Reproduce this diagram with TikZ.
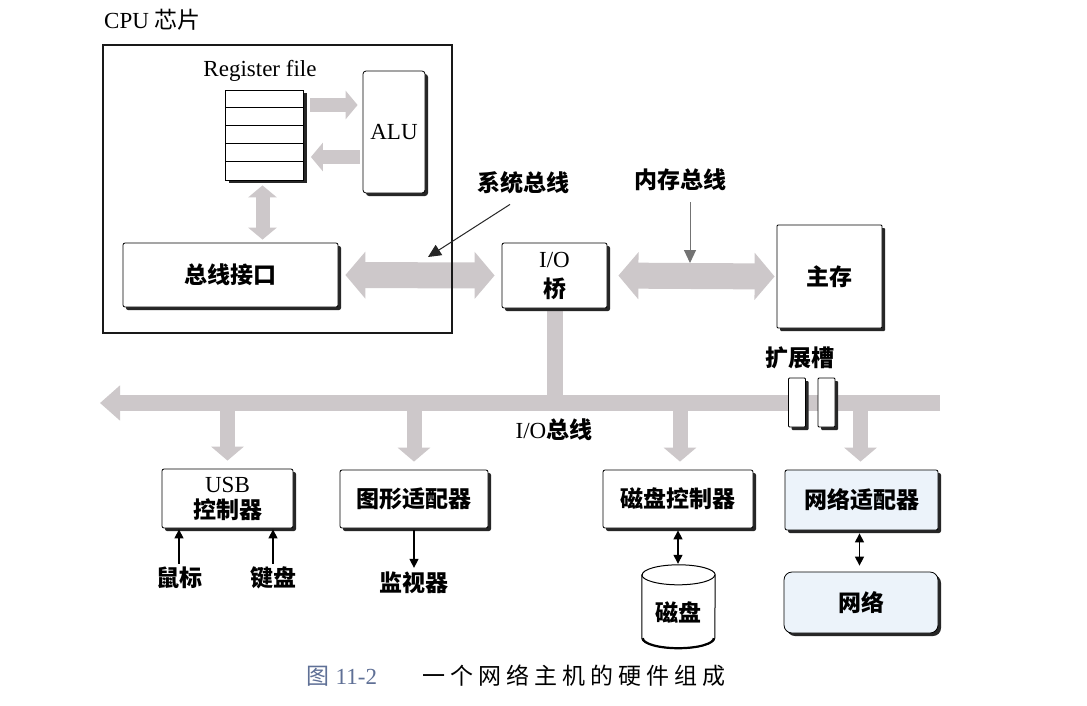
\documentclass[tikz,border=0pt]{standalone}
\usepackage{fontspec}
\setmainfont{Liberation Serif}
\newfontfamily\cjkfont{Noto Sans CJK SC}
\newfontfamily\capfont[LetterSpace=22]{Noto Sans CJK SC}
\usetikzlibrary{arrows.meta,shadows,calc}
\pgfdeclarelayer{paper}
\pgfdeclarelayer{bg}
\pgfsetlayers{paper,bg,main}
\newcommand\zhb[1]{{\cjkfont\bfseries #1}}

\definecolor{busgray}{RGB}{205,200,202}
\definecolor{paleblue}{RGB}{236,243,250}
\definecolor{capblue}{RGB}{95,112,150}
\definecolor{leadergray}{RGB}{115,115,115}

\tikzset{
  every node/.style={font=\fontsize{23}{27}\selectfont, inner sep=0pt},
  box/.style={draw=black, line width=0.8pt, fill=white, rounded corners=2pt,
    align=center,
    drop shadow={shadow xshift=3pt, shadow yshift=-3pt, fill=black!85, opacity=1}},
  bluebox/.style={box, fill=paleblue},
  bigbus/.style={line width=26pt, draw=busgray,
    {Triangle[length=20pt,width=46pt]}-{Triangle[length=20pt,width=46pt]}},
  iobus/.style={line width=16pt, draw=busgray, -{Triangle[length=20pt,width=34pt]}},
  stem/.style={line width=16pt, draw=busgray},
  branch/.style={line width=15pt, draw=busgray, -{Triangle[length=14pt,width=32pt]}},
  regbus/.style={line width=14pt, draw=busgray, -{Triangle[length=12pt,width=28pt]}},
  regbus2/.style={line width=14pt, draw=busgray,
    {Triangle[length=12pt,width=28pt]}-{Triangle[length=12pt,width=28pt]}},
  leader/.style={draw=black!85, line width=1pt, -{Triangle[length=13pt,width=12pt]}},
  arr/.style={draw=black, line width=1.3pt, -{Triangle[length=9pt,width=9pt]}},
  dblarr/.style={draw=black, line width=1.3pt,
    {Triangle[length=9pt,width=9pt]}-{Triangle[length=9pt,width=9pt]}},
}

\begin{document}
\begin{tikzpicture}[x=1pt,y=-1pt]
\begin{pgfonlayer}{paper}
  \fill[white] (0,0) rectangle (1087,705);
\end{pgfonlayer}
\useasboundingbox (0,0) rectangle (1087,705);

% CPU chip
\node[anchor=west] (cpulabel) at (104,20) {CPU {\cjkfont 芯片}};
\node[draw=black!90, line width=2.6pt, minimum width=349pt, minimum height=288pt] (cpu) at (277.5,189) {};
\node (regfile) at (260,71) {Register file};
\node[draw=black, line width=0.8pt, fill=white, minimum width=78pt, minimum height=90pt,
  drop shadow={shadow xshift=3pt, shadow yshift=-3pt, fill=black!85, opacity=1}] (reg) at (264.5,135) {};
\foreach \k in {1,...,4}
  \draw[line width=0.7pt] ([yshift=-18*\k pt]reg.north west) -- ([yshift=-18*\k pt]reg.north east);
\node[box, rounded corners=3pt, minimum width=62pt, minimum height=122pt] (alu) at (394,132) {ALU};
\node[box, minimum width=215pt, minimum height=64pt] (bif) at (230.5,275) {\zhb{总线接口}};

% bridge, memory, expansion slots
\node[box, minimum width=105pt, minimum height=65pt] (iob) at (554.5,275.5) {I/O\\[3pt]\zhb{桥}};
\node[box, rounded corners=1pt, minimum width=105pt, minimum height=103pt] (mem) at (829.5,276.5) {\zhb{主存}};
\node (slotlabel) at (800,358) {\zhb{扩展槽}};
\node[box, rounded corners=1pt, minimum width=17pt, minimum height=49pt] (slot1) at (797,402.5) {};
\node[box, rounded corners=1pt, minimum width=17pt, minimum height=49pt] (slot2) at (826.5,402.5) {};

% bus labels
\node (sysbus) at (523,183) {\zhb{系统总线}};
\node (membus) at (680,180) {\zhb{内存总线}};
\node (iobuslabel) at (554,430) {I/O\zhb{总线}};
\coordinate (systip) at (428,257);
\coordinate (memtip) at (690,263);
\coordinate (busL) at (100,403);
\coordinate (busR) at (940,403);

% I/O devices
\node[box, minimum width=131pt, minimum height=59pt] (usb) at (227.5,498.5) {USB\\[-1pt]\zhb{控制器}};
\node[box, minimum width=148pt, minimum height=58pt] (grp) at (414,499) {\zhb{图形适配器}};
\node[box, minimum width=150pt, minimum height=58pt] (dsk) at (678,499) {\zhb{磁盘控制器}};
\node[bluebox, minimum width=153pt, minimum height=60pt] (nad) at (861.5,500) {\zhb{网络适配器}};
\node[bluebox, rounded corners=8pt, minimum width=154pt, minimum height=61pt] (net) at (861,602.5) {\zhb{网络}};
\node[minimum width=73pt, minimum height=83pt] (disk) at (678.5,606.5) {\raisebox{-15pt}[0pt][0pt]{\zhb{磁盘}}};
\node (mouse) at (179,578) {\zhb{鼠标}};
\node (kbd) at (273,578) {\zhb{键盘}};
\node (mon) at (414,583) {\zhb{监视器}};

% caption
\node (capnum) at (342,676) {\color{capblue}{\cjkfont 图} 11-2};
\node (captext) at (574,676) {\capfont 一个网络主机的硬件组成};

% buses, drawn behind the boxes
\begin{pgfonlayer}{bg}
  \draw[iobus] (busR) -- (busL);
  \draw[stem, shorten <=3pt] (iob.south) -- (iob.south |- busL);
  \draw[branch, shorten >=8pt] (usb.north |- busL) -- (usb.north);
  \draw[branch, shorten >=8pt] (grp.north |- busL) -- (grp.north);
  \draw[branch, shorten >=8pt] ([xshift=2pt]dsk.north |- busL) -- ([xshift=2pt]dsk.north);
  \draw[branch, shorten >=8pt] ([xshift=-1pt]nad.north |- busL) -- ([xshift=-1pt]nad.north);
  \draw[bigbus, shorten <=7pt, shorten >=7pt] (bif.east) -- (iob.west);
  \draw[bigbus, shorten <=11pt, shorten >=2pt] (iob.east) -- (mem.west);
  \draw[regbus, shorten <=6pt, shorten >=5pt] ([yshift=30pt]reg.east) -- ([yshift=30pt]reg.east -| alu.west);
  \draw[regbus, shorten <=3pt, shorten >=7pt] ([yshift=-22pt]reg.east -| alu.west) -- ([yshift=-22pt]reg.east);
  \draw[regbus2, shorten <=5pt, shorten >=3pt] ([xshift=-2pt]reg.south) -- ([xshift=-2pt]reg.south |- bif.north);
  % disk drum
  \draw[line width=1pt, fill=white]
    ([yshift=-10pt]disk.north west) -- ([yshift=10pt]disk.south west)
    arc[start angle=180, end angle=360, x radius=36.5pt, y radius=10pt]
    -- ([yshift=-10pt]disk.north east)
    arc[start angle=0, end angle=180, x radius=36.5pt, y radius=10pt] -- cycle;
  \draw[line width=1pt] ([yshift=-10pt]disk.north west)
    arc[start angle=180, end angle=360, x radius=36.5pt, y radius=10pt];
  \draw[line width=2.2pt] ([yshift=10pt,xshift=1pt]disk.south west)
    arc[start angle=180, end angle=360, x radius=35.5pt, y radius=10pt];
\end{pgfonlayer}

% pointers to the buses
\draw[leader] ([xshift=-13pt,yshift=-10pt]sysbus.south) -- (systip);
\draw[leader, draw=leadergray] ([xshift=10pt,yshift=-11pt]membus.south) -- (memtip);

% device links
\draw[arr, shorten <=3pt, shorten >=1pt] (mouse.north) -- (mouse.north |- usb.south);
\draw[arr, shorten <=3pt, shorten >=1pt] (kbd.north) -- (kbd.north |- usb.south);
\draw[arr, shorten <=2pt, shorten >=4pt] (mon.north |- grp.south) -- (mon.north);
\draw[dblarr, shorten <=2pt, shorten >=1pt] (dsk.south) -- (dsk.south |- disk.north);
\draw[dblarr, shorten <=3pt, shorten >=6pt] ([xshift=-2pt]nad.south) -- ([xshift=-2pt]nad.south |- net.north);
\end{tikzpicture}
\end{document}
